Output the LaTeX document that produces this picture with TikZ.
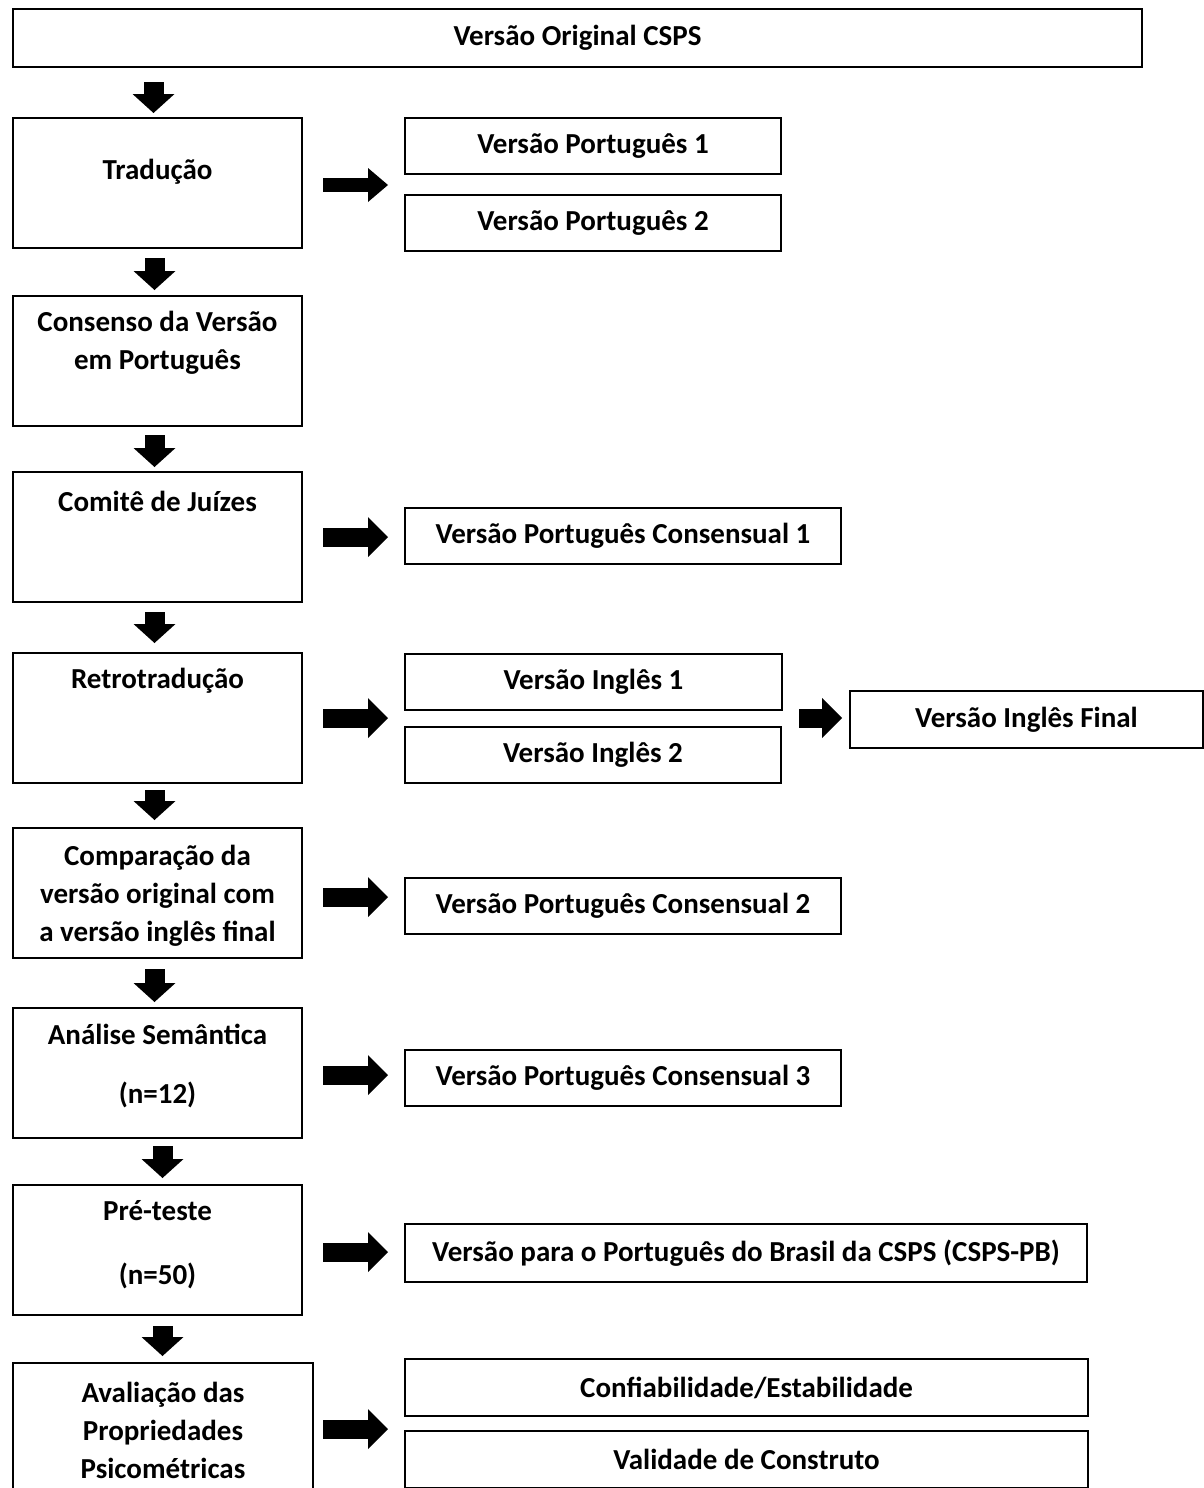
\documentclass[tikz,border=0pt]{standalone}
\usepackage{fontspec}
\setmainfont{Carlito}
\usepackage{tikz}
\usetikzlibrary{arrows.meta,positioning}

\tikzset{
    box/.style={draw,line width=2pt,inner sep=0pt,anchor=north west,minimum height=56pt},
    lbox/.style={box,minimum width=289pt,minimum height=130pt},
    txt/.style={font=\fontsize{29}{38}\selectfont\bfseries,align=center,inner sep=0pt},
    dnarrow/.style={line width=20pt,-{Triangle[width=42pt,length=19pt,line width=0pt]},shorten <=9pt,shorten >=5pt},
    rtarrow/.style={line width=19pt,-{Triangle[width=40pt,length=20pt,line width=0pt]},shorten <=20pt,shorten >=16pt}
}

\begin{document}
\begin{tikzpicture}[x=1pt,y=-1pt]
        \useasboundingbox (0,0) rectangle (1203,1488);
        % left column
        \node[box,minimum width=1129pt,minimum height=58pt,txt] (orig) at (12,8) {Versão Original CSPS};
        \node[lbox] (trad) at (12,117) {};
        \node[lbox] (cons) at (12,295) {};
        \node[lbox] (comite) at (12,471) {};
        \node[lbox] (retro) at (12,652) {};
        \node[lbox] (compar) at (12,827) {};
        \node[lbox] (anal) at (12,1007) {};
        \node[lbox] (pre) at (12,1184) {};
        \node[lbox,minimum width=300pt,minimum height=150pt] (aval) at (12,1362) {};

        \node[txt,below=55pt of trad.north,anchor=center] (tradT) {Tradução};
        \node[txt,below=48pt of cons.north,anchor=center] (consT) {Consenso da Versão\\em Português};
        \node[txt,below=30pt of comite.north,anchor=center] (comiteT) {Comitê de Juízes};
        \node[txt,below=29pt of retro.north,anchor=center] (retroT) {Retrotradução};
        \node[txt,below=69pt of compar.north,anchor=center] (comparT) {Comparação da\\versão original com\\a versão inglês final};
        \node[txt,below=59pt of anal.north,anchor=center] (analT) {Análise Semântica\\[21pt](n=12)};
        \node[txt,below=61pt of pre.north,anchor=center] (preT) {Pré-teste\\[26pt](n=50)};
        \node[txt,below=68pt of aval.north,anchor=center] (avalT) {Avaliação das\\Propriedades\\Psicométricas};

        % right column
        \node[box,minimum width=376pt,txt] (vp1) at (404,117) {Versão Português 1};
        \node[box,minimum width=376pt,txt] (vp2) at (404,194) {Versão Português 2};
        \node[box,minimum width=436pt,txt] (vpc1) at (404,507) {Versão Português Consensual 1};
        \node[box,minimum width=377pt,txt] (vi1) at (404,653) {Versão Inglês 1};
        \node[box,minimum width=376pt,txt] (vi2) at (404,726) {Versão Inglês 2};
        \node[box,minimum width=353pt,minimum height=57pt,txt] (vif) at (849,690) {Versão Inglês Final};
        \node[box,minimum width=436pt,txt] (vpc2) at (404,877) {Versão Português Consensual 2};
        \node[box,minimum width=436pt,txt] (vpc3) at (404,1049) {Versão Português Consensual 3};
        \node[box,minimum width=682pt,minimum height=58pt,txt] (vpb) at (404,1223) {Versão para o Português do Brasil da CSPS (CSPS-PB)};
        \node[box,minimum width=683pt,minimum height=57pt,txt] (conf) at (404,1358) {Confiabilidade/Estabilidade};
        \node[box,minimum width=683pt,minimum height=57pt,txt] (valid) at (404,1430) {Validade de Construto};

        % down arrows
        \draw[dnarrow,shorten <=14pt,shorten >=4pt] ([xshift=-4pt]orig.south -| trad.north) -- ([xshift=-4pt]trad.north);
        \draw[dnarrow] ([xshift=-3pt]trad.south) -- ([xshift=-3pt]cons.north);
        \draw[dnarrow,shorten <=8pt,shorten >=4pt] ([xshift=-3pt]cons.south) -- ([xshift=-3pt]comite.north);
        \draw[dnarrow,shorten >=9pt] ([xshift=-3pt]comite.south) -- ([xshift=-3pt]retro.north);
        \draw[dnarrow,shorten <=6pt,shorten >=7pt] ([xshift=-3pt]retro.south) -- ([xshift=-3pt]compar.north);
        \draw[dnarrow,shorten <=10pt] ([xshift=-3pt]compar.south) -- ([xshift=-3pt]anal.north);
        \draw[dnarrow,shorten <=7pt,shorten >=6pt] ([xshift=5pt]anal.south) -- ([xshift=5pt]pre.north);
        \draw[dnarrow,shorten <=10pt,shorten >=6pt] ([xshift=5pt]pre.south) -- ([xshift=5pt]pre.south |- aval.north);

        % right arrows
        \draw[rtarrow,line width=14pt,-{Triangle[width=34pt,length=20pt,line width=0pt]}] ([yshift=-2pt]trad.east) -- ([yshift=-2pt]trad.east -| vp1.west);
        \draw[rtarrow] (comite.east) -- (comite.east -| vpc1.west);
        \draw[rtarrow] (retro.east) -- (retro.east -| vi1.west);
        \draw[rtarrow,shorten <=16pt,shorten >=7pt] (retro.east -| vi1.east) -- (retro.east -| vif.west);
        \draw[rtarrow] ([yshift=-4pt]compar.east) -- ([yshift=-4pt]compar.east -| vpc2.west);
        \draw[rtarrow] ([yshift=-2pt]anal.east) -- ([yshift=-2pt]anal.east -| vpc3.west);
        \draw[rtarrow] ([yshift=-2pt]pre.east) -- ([yshift=-2pt]pre.east -| vpb.west);
        \draw[rtarrow,shorten <=9pt] ([yshift=9pt]aval.east) -- ([yshift=9pt]aval.east -| conf.west);
\end{tikzpicture}
\end{document}
